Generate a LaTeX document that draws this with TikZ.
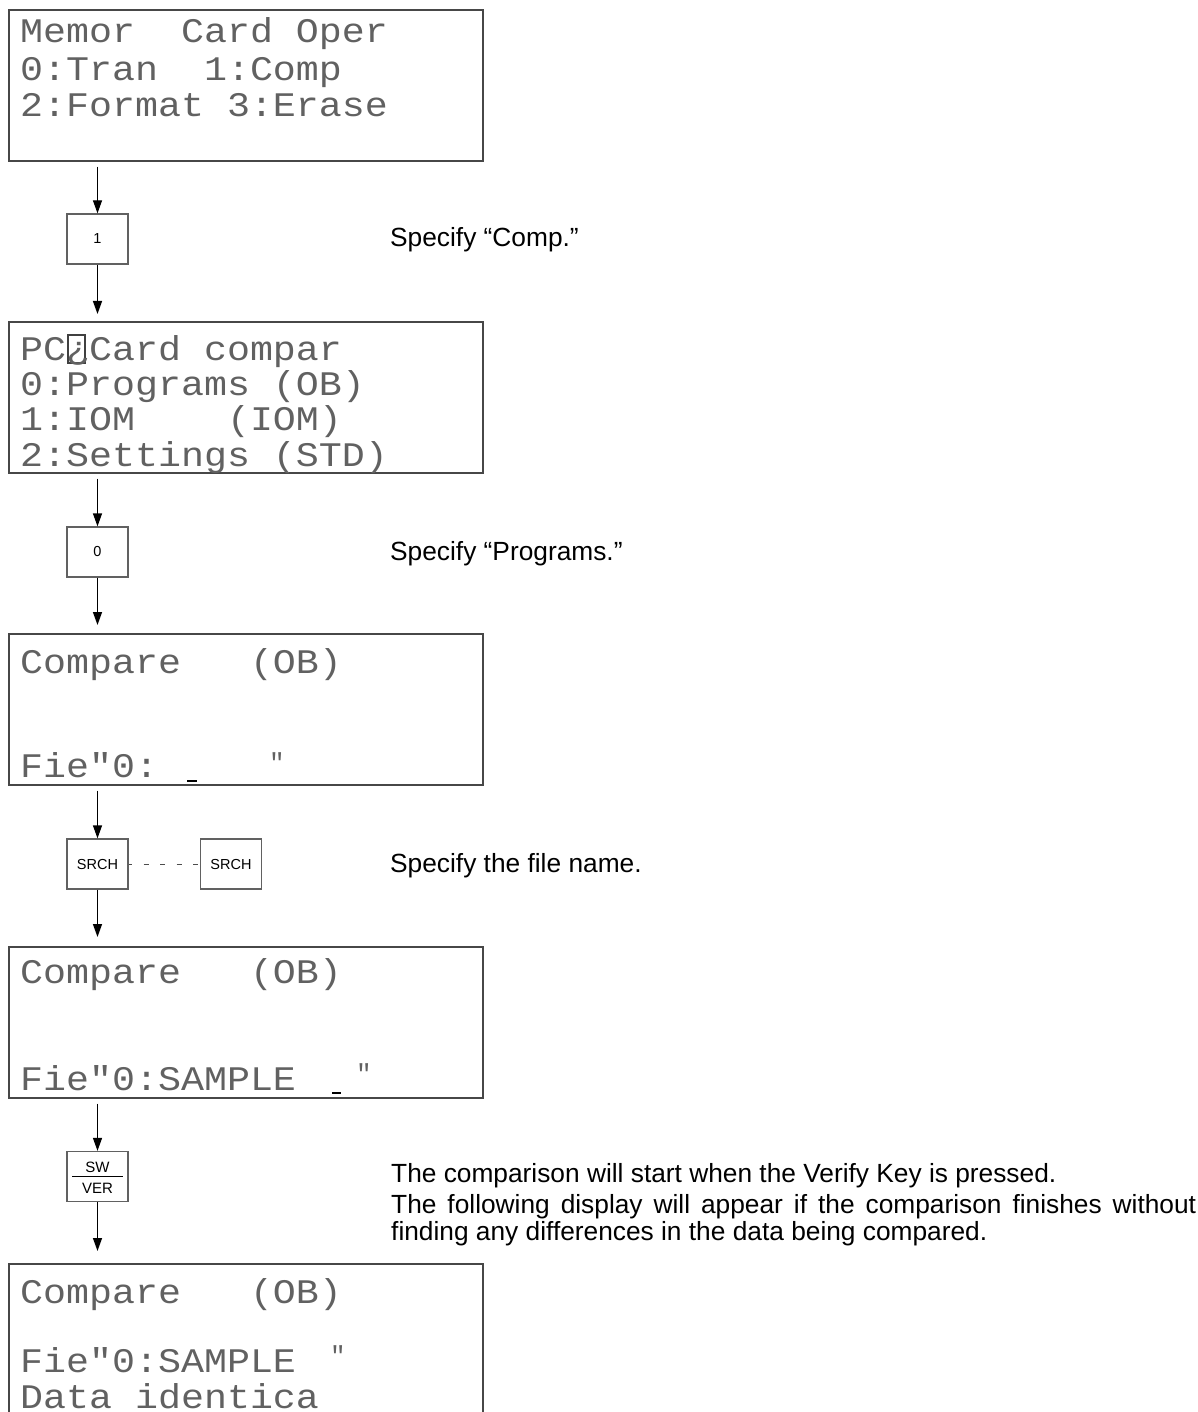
\documentclass[tikz,border=0pt]{standalone}
\usepackage{fontspec}
\usepackage{graphicx}
\setmainfont{Liberation Sans}
\newfontfamily\lcdfont{Liberation Mono}
\usetikzlibrary{arrows.meta}
\frenchspacing
\newcommand{\lcdline}[1]{\scalebox{1}[0.9]{#1}}
\tikzset{
  lcdbox/.style={draw=black!72, line width=1.6pt, rectangle, inner sep=0pt, anchor=north west, minimum width=474pt},
  keybox/.style={draw=black!62, line width=1.3pt, rectangle, minimum width=61pt, minimum height=50pt, inner sep=0pt, font=\fontsize{14.5}{16}\selectfont},
  keytxt/.style={anchor=base, inner sep=0pt, font=\fontsize{15}{16}\selectfont},
  lcdtxt/.style={anchor=base west, inner sep=0pt, text=black!62, font=\lcdfont\fontsize{38.3}{40}\selectfont},
  lcdmark/.style={anchor=base, inner sep=0pt, text=black!62, font=\lcdfont\fontsize{26}{28}\selectfont},
  desc/.style={anchor=base west, inner sep=0pt, font=\fontsize{26.3}{30}\selectfont},
  arr/.style={-{Triangle[length=13pt,width=9pt]}, line width=1.3pt},
  cursorline/.style={line width=2pt},
}
\begin{document}
\begin{tikzpicture}[x=1pt, y=-1pt]
\useasboundingbox (0,0) rectangle (1197,1412);
\clip (0,0) rectangle (1197,1412);

% LCD screens
\node[lcdbox, minimum height=151pt] (lcdA) at (8,9) {};
\node[lcdbox, minimum height=151pt] (lcdB) at (8,321) {};
\node[lcdbox, minimum height=151pt] (lcdC) at (8,633) {};
\node[lcdbox, minimum height=151pt] (lcdD) at (8,946) {};
\node[lcdbox, minimum height=180pt] (lcdE) at (8,1263) {};

% screen A
\node[lcdtxt] (a1) at (20,43) {\lcdline{Memor~~Card Oper}};
\node[lcdtxt] (a2) at (20,81) {\lcdline{0:Tran~~1:Comp}};
\node[lcdtxt] (a3) at (20,117) {\lcdline{2:Format 3:Erase}};

% screen B
\node[draw=black!75, line width=1.3pt, minimum width=17pt, minimum height=28pt, inner sep=0pt] (qbox) at (76.5,349) {};
\node[lcdtxt] (b1) at (20,360) {\lcdline{PC¿Card compar}};
\node[lcdtxt] (b2) at (20,395) {\lcdline{0:Programs (OB)}};
\node[lcdtxt] (b3) at (20,430) {\lcdline{1:IOM~~~~(IOM)}};
\node[lcdtxt] (b4) at (20,466) {\lcdline{2:Settings (STD)}};

% screen C
\node[lcdtxt] (c1) at (20,673) {\lcdline{Compare~~~(OB)}};
\node[lcdtxt] (c4) at (20,777) {\lcdline{Fie"0:}};
\node[lcdmark] (cm) at (277,771) {"};
\draw[cursorline] (187,780.5) -- (197,780.5);

% screen D
\node[lcdtxt] (d1) at (20,983) {\lcdline{Compare~~~(OB)}};
\node[lcdtxt] (d4) at (20,1090) {\lcdline{Fie"0:SAMPLE}};
\node[lcdmark] (dm) at (364,1082) {"};
\draw[cursorline] (332,1093) -- (341,1093);

% screen E
\node[lcdtxt] (e1) at (20,1303) {\lcdline{Compare~~~(OB)}};
\node[lcdtxt] (e3) at (20,1372) {\lcdline{Fie"0:SAMPLE}};
\node[lcdmark] (em) at (338,1364) {"};
\node[lcdtxt] (e4) at (20,1408) {\lcdline{Data identica}};

% keys
\node[keybox] (kA) at (97.5,239) {1};
\node[keybox] (kB) at (97.5,552) {0};
\node[keybox] (kC) at (97.5,864) {SRCH};
\node[keybox] (kC2) at (231,864) {SRCH};
\node[keybox] (kD) at (97.5,1176.5) {};
\node[keytxt] (sw) at (97.5,1172) {SW};
\node[keytxt] (ver) at (97.5,1193) {VER};
\draw[line width=1.1pt] ([xshift=6pt]kD.west) -- ([xshift=-6pt]kD.east);

% connectors
\draw[arr, shorten <=5pt] (lcdA.south -| kA.north) -- (kA.north);
\draw[arr, shorten >=7pt] (kA.south) -- (kA.south |- lcdB.north);
\draw[arr, shorten <=5pt] (lcdB.south -| kB.north) -- (kB.north);
\draw[arr, shorten >=8pt] (kB.south) -- (kB.south |- lcdC.north);
\draw[arr, shorten <=5pt] (lcdC.south -| kC.north) -- (kC.north);
\draw[arr, shorten >=9pt] (kC.south) -- (kC.south |- lcdD.north);
\draw[arr, shorten <=5pt] (lcdD.south -| kD.north) -- (kD.north);
\draw[arr, shorten >=12pt] (kD.south) -- (kD.south |- lcdE.north);
\draw[line width=1pt, black!70, dash pattern=on 5pt off 11.5pt, dash phase=1.5pt] (kC.east) -- (kC2.west);

% descriptions
\node[desc] (dA) at (390,247) {Specify “Comp.”};
\node[desc] (dB) at (390,560) {Specify “Programs.”};
\node[desc] (dC) at (390,872) {Specify the file name.};
\node[desc] (dD1) at (391,1182) {The comparison will start when the Verify Key is pressed.};
\node[desc] (dD2) at (391,1213) {\makebox[805pt][s]{The following display will appear if the comparison finishes without}};
\node[desc] (dD3) at (391,1240) {finding any differences in the data being compared.};
\end{tikzpicture}
\end{document}
